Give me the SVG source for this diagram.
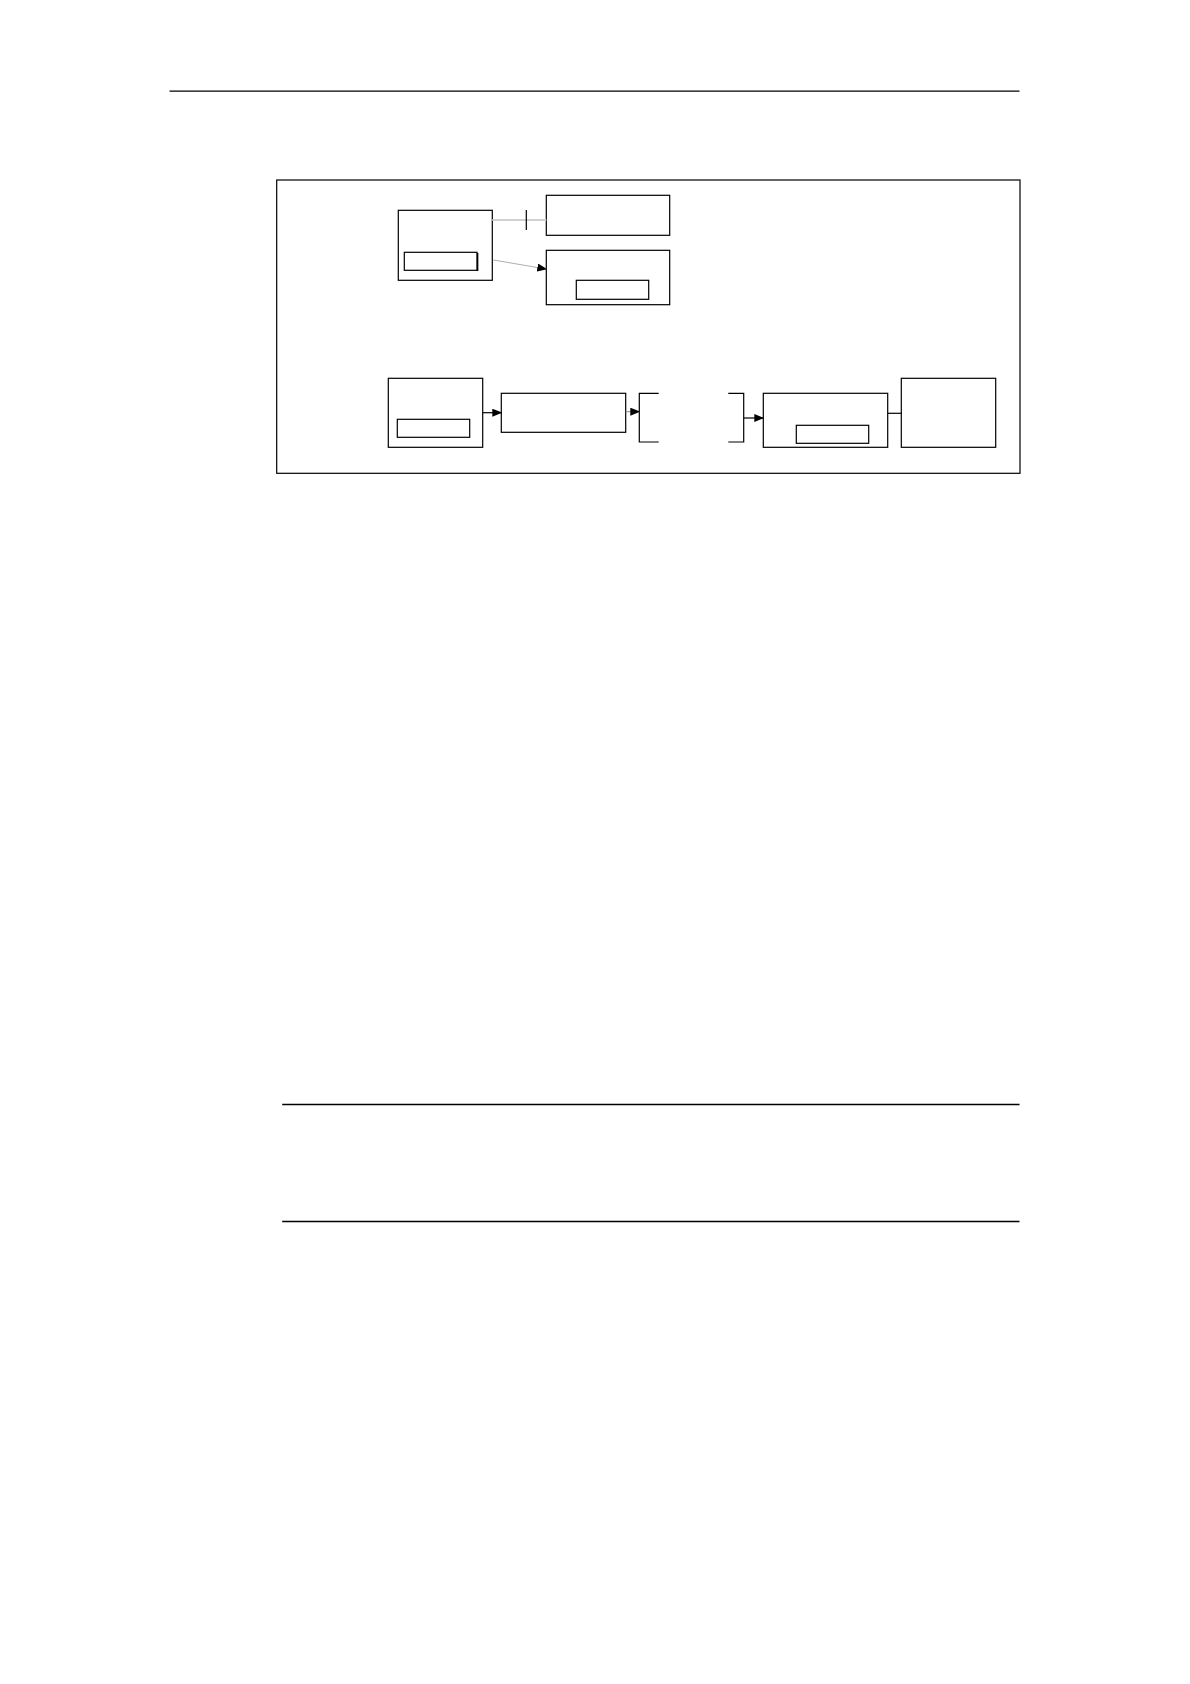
<svg xmlns="http://www.w3.org/2000/svg" width="1190" height="1684" viewBox="0 0 1190 1684">
<style>
.box{fill:#fff;stroke:#000;stroke-width:1.2}
.rule{stroke:#000;stroke-width:1.3}
.con{fill:none;stroke:#000;stroke-width:1.2}
</style>
<defs>
<marker id="ah" markerWidth="10" markerHeight="8" refX="9" refY="4" orient="auto" markerUnits="userSpaceOnUse">
<path d="M0,0 L10,4 L0,8 Z" fill="#000"/>
</marker>
</defs>
<rect width="1190" height="1684" fill="#fff"/>
<line class="rule" x1="169.5" y1="91.2" x2="1019.5" y2="91.2"/>
<rect id="frame" x="276.7" y="180" width="743.3" height="293.3" fill="none" stroke="#000" stroke-width="1.2"/>
<g id="nodeA">
<rect class="box" x="398.3" y="210.3" width="94" height="70"/>
<rect class="box" x="404.3" y="252.3" width="72.7" height="18"/>
<line x1="477.6" y1="253" x2="477.6" y2="271" stroke="#000" stroke-width="1.5"/>
</g>
<g id="nodeB"><rect class="box" x="546.3" y="195.3" width="123.4" height="40"/></g>
<g id="nodeC">
<rect class="box" x="546.3" y="250.3" width="123.4" height="54.4"/>
<rect class="box" x="576.3" y="280.3" width="72.4" height="19"/>
</g>
<g id="nodeD">
<rect class="box" x="388.3" y="378.3" width="94.4" height="69"/>
<rect class="box" x="397.3" y="419.3" width="72.4" height="18"/>
</g>
<g id="nodeE"><rect class="box" x="501.3" y="393.3" width="124.4" height="39"/></g>
<g id="nodeBracket">
<path class="con" d="M658.7,393.3 H639.3 V442 H658.7"/>
<path class="con" d="M728.3,393.3 H743.7 V442 H728.3"/>
</g>
<g id="nodeF">
<rect class="box" x="763.3" y="393.3" width="124.4" height="54"/>
<rect class="box" x="796.3" y="425.3" width="72.4" height="18"/>
</g>
<g id="nodeG"><rect class="box" x="901.3" y="378.3" width="94.4" height="69"/></g>
<g id="connectors">
<line x1="492.3" y1="220" x2="546.3" y2="220" stroke="#d0d0d0" stroke-width="2"/>
<line x1="526.3" y1="210" x2="526.3" y2="230" stroke="#000" stroke-width="1.2"/>
<line x1="493.3" y1="260" x2="546.3" y2="269" stroke="#999" stroke-width="0.8" marker-end="url(#ah)"/>
<line class="con" x1="482.7" y1="412.7" x2="501.3" y2="412.7" marker-end="url(#ah)"/>
<line x1="625.7" y1="411.7" x2="639.3" y2="411.7" stroke="#888" stroke-width="1" marker-end="url(#ah)"/>
<line class="con" x1="743.7" y1="418" x2="763.3" y2="418" marker-end="url(#ah)"/>
<line class="con" x1="887.7" y1="413.3" x2="901.3" y2="413.3"/>
</g>
<line class="rule" x1="282.2" y1="1104.5" x2="1019.5" y2="1104.5"/>
<line class="rule" x1="282.2" y1="1221.5" x2="1019.5" y2="1221.5"/>
</svg>
